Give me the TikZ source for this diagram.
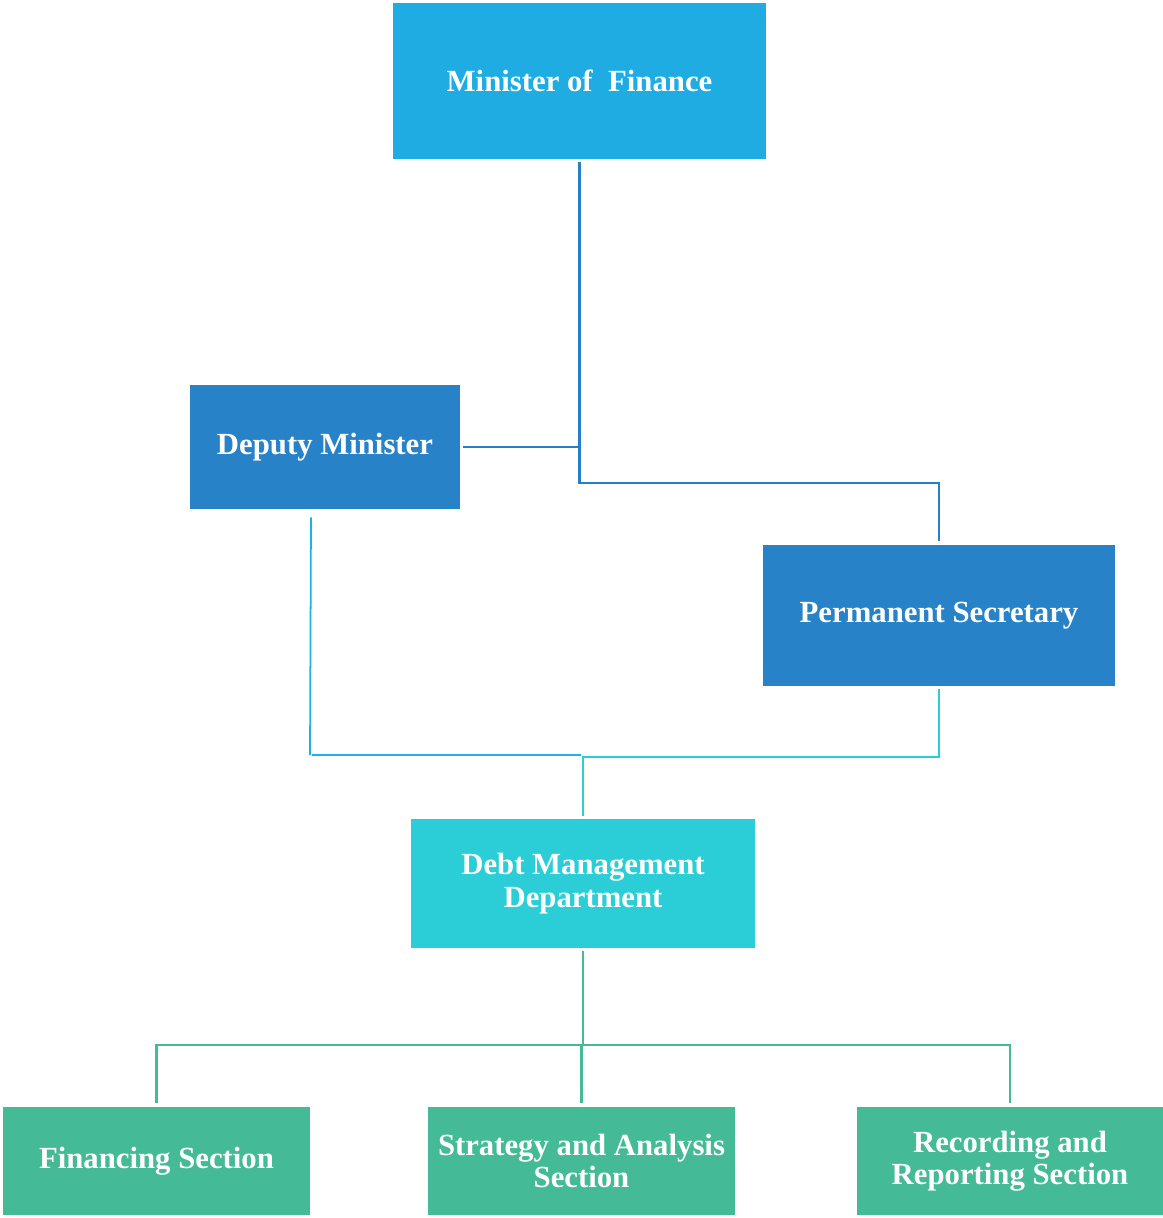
\documentclass[tikz,border=0pt]{standalone}
\usepackage{fontspec}
\setmainfont{Liberation Serif}
\definecolor{cMin}{HTML}{1FACE3}
\definecolor{cDep}{HTML}{2882C8}
\definecolor{cDebt}{HTML}{2BCDD7}
\definecolor{cSec}{HTML}{45BA96}
\definecolor{lBlue}{HTML}{2A7EC3}
\definecolor{lSky}{HTML}{1FB0E4}
\definecolor{lCyan}{HTML}{2BCDD7}
\definecolor{lGreen}{HTML}{45BA96}
\tikzset{
  box/.style={draw=none, inner sep=0pt, text=white, align=center,
    font=\fontsize{17.5}{18.5}\selectfont\bfseries},
  conn/.style={line width=1.5pt},
}
\begin{document}
\begin{tikzpicture}[x=0.02cm,y=-0.02cm]
\useasboundingbox (0,0) rectangle (1163,1218);
% boxes
\node[box, fill=cMin, minimum width=7.46cm, minimum height=3.12cm] (min) at (579.5,81) {Minister of\ \ Finance};
\node[box, fill=cDep, minimum width=5.40cm, minimum height=2.48cm] (dep) at (325,447) {Deputy Minister};
\node[box, fill=cDep, minimum width=7.04cm, minimum height=2.82cm] (ps) at (939,615.5) {Permanent Secretary};
\node[box, fill=cDebt, minimum width=6.88cm, minimum height=2.58cm] (debt) at (583,883.5) {Debt Management\\Department};
\node[box, fill=cSec, minimum width=6.14cm, minimum height=2.16cm] (fin) at (156.5,1161) {Financing Section};
\node[box, fill=cSec, minimum width=6.14cm, minimum height=2.16cm] (str) at (581.5,1161) {Strategy and Analysis\\Section};
\node[box, fill=cSec, minimum width=6.14cm, minimum height=2.16cm] (rec) at (1010,1161) {Recording and\\Reporting Section};

\coordinate (j1) at (581,755);

% connectors
\draw[conn,lBlue] ([yshift=-0.06cm]min.south) -- (min.south |- 0,483) -- (ps.north |- 0,483) -- ([yshift=0.08cm]ps.north);
\draw[conn,lBlue] ([xshift=0.06cm]dep.east) -- (min.south |- dep.east);
\draw[line width=1pt,lSky] ([xshift=-0.28cm,yshift=-0.16cm]dep.south) -- ([xshift=-0.30cm]dep.south |- j1);
\draw[conn,lSky] ([xshift=-0.26cm]dep.south |- j1) -- (j1);
\draw[conn,lCyan] ([yshift=-0.06cm]ps.south) -- (ps.south |- 0,757) -- (debt.north |- 0,757) -- ([yshift=0.06cm]debt.north);
\draw[conn,lGreen] ([yshift=-0.06cm]debt.south) -- (debt.south |- 0,1045);
\draw[conn,lGreen] ([yshift=0.08cm]fin.north) -- (fin.north |- 0,1045) -- (rec.north |- 0,1045) -- ([yshift=0.08cm]rec.north);
\draw[conn,lGreen] (str.north |- 0,1045) -- ([yshift=0.08cm]str.north);
\end{tikzpicture}
\end{document}
